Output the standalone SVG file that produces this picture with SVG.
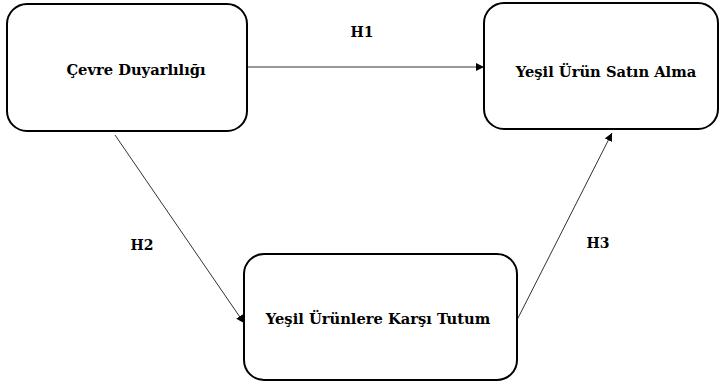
<svg xmlns="http://www.w3.org/2000/svg" width="721" height="385" viewBox="0 0 721 385">
<style>
.box{fill:#fff;stroke:#000;stroke-width:2}
text{font-family:'DejaVu Serif',serif;font-weight:bold;fill:#000;text-anchor:middle}
.lbl{font-size:14.7px}
.hl{font-size:14px}
.edge{stroke:#333;stroke-width:1;fill:none;marker-end:url(#ah)}
</style>
<defs>
<marker id="ah" viewBox="0 0 10 10" refX="10" refY="5" markerWidth="8" markerHeight="8" markerUnits="userSpaceOnUse" orient="auto">
<path d="M0,0 L10,5 L0,10 z" fill="#000"/>
</marker>
</defs>
<rect width="721" height="385" fill="#fff"/>
<g id="edges">
<line class="edge" x1="248" y1="67" x2="484" y2="67"/>
<line class="edge" x1="115" y1="135" x2="244" y2="323"/>
<line class="edge" x1="517" y1="320" x2="612" y2="133"/>
</g>
<g id="n1">
<rect class="box" x="7" y="4" width="240" height="127" rx="20"/>
<text class="lbl" x="136" y="75">Çevre Duyarlılığı</text>
</g>
<g id="n2">
<rect class="box" x="484" y="3" width="234" height="126" rx="20"/>
<text class="lbl" x="606" y="77">Yeşil Ürün Satın Alma</text>
</g>
<g id="n3">
<rect class="box" x="244" y="254" width="273" height="126" rx="20"/>
<text class="lbl" x="378" y="324">Yeşil Ürünlere Karşı Tutum</text>
</g>
<g id="labels">
<text class="hl" x="362" y="37">H1</text>
<text class="hl" x="142" y="250">H2</text>
<text class="hl" x="598" y="248">H3</text>
</g>
</svg>
